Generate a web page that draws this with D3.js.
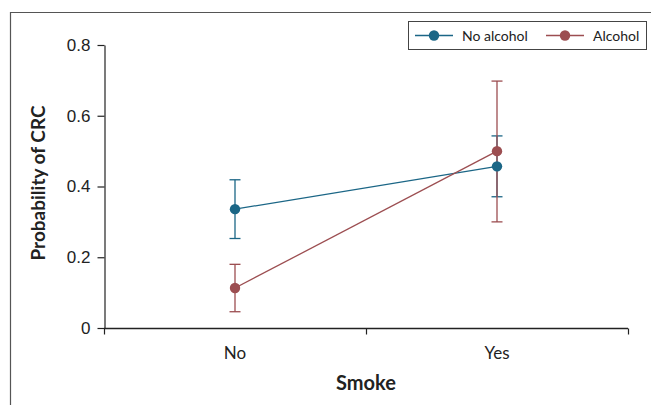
<!DOCTYPE html>
<html>
<head>
<meta charset="utf-8">
<script src="https://cdn.jsdelivr.net/npm/d3@7"></script>
<style>
  html, body { margin: 0; padding: 0; background: #fff; }
  svg { display: block; font-family: Lato, "Open Sans", sans-serif; }
</style>
</head>
<body>
<svg id="chart" width="651" height="405"></svg>
<script>
// Predicted probability of CRC by smoking status, split by alcohol use
const categories = ["No", "Yes"];
const seriesNames = ["No alcohol", "Alcohol"];
const noAlcoholMean = [0.336, 0.457];
const noAlcoholLow  = [0.253, 0.371];
const noAlcoholHigh = [0.419, 0.543];
const alcoholMean   = [0.113, 0.500];
const alcoholLow    = [0.046, 0.300];
const alcoholHigh   = [0.180, 0.698];
const yTicks = [0, 0.2, 0.4, 0.6, 0.8];
const yTickLabels = ["0", "0.2", "0.4", "0.6", "0.8"];
const colors = ["#1b6686", "#9c4e51"];

const series = [
  { name: seriesNames[0], mean: noAlcoholMean, low: noAlcoholLow, high: noAlcoholHigh, color: colors[0] },
  { name: seriesNames[1], mean: alcoholMean, low: alcoholLow, high: alcoholHigh, color: colors[1] }
];

const svg = d3.select("#chart");

// outer frame (left and top edges visible)
svg.append("path")
  .attr("d", "M10.5,405 V12.5 H651")
  .attr("fill", "none")
  .attr("stroke", "#555")
  .attr("stroke-width", 1.2);

const x = d3.scaleBand().domain(categories).range([104, 628]);
const y = d3.scaleLinear().domain([0, 0.8]).range([328, 45]);

// y axis
const yAxis = svg.append("g")
  .attr("transform", "translate(104.5,0)")
  .call(d3.axisLeft(y).tickValues(yTicks).tickFormat((d, i) => yTickLabels[i]).tickSize(7).tickSizeOuter(0).tickPadding(7));
yAxis.select(".domain").attr("stroke", "#222").attr("stroke-width", 1.2);
yAxis.selectAll(".tick line").attr("stroke", "#222").attr("stroke-width", 1.2);
yAxis.selectAll(".tick text").attr("font-size", 17).attr("fill", "#222");

// x axis with ticks at band boundaries
const xAxisG = svg.append("g").attr("transform", "translate(0,328.5)");
xAxisG.append("line")
  .attr("x1", x.range()[0]).attr("x2", x.range()[1])
  .attr("stroke", "#222").attr("stroke-width", 1.4);
const boundaries = [x.range()[0], x(categories[1]), x.range()[1]];
xAxisG.selectAll("line.tk").data(boundaries).join("line")
  .attr("class", "tk")
  .attr("x1", d => d + 0.5).attr("x2", d => d + 0.5)
  .attr("y1", 0).attr("y2", 6)
  .attr("stroke", "#222").attr("stroke-width", 1.2);
xAxisG.selectAll("text").data(categories).join("text")
  .attr("x", d => x(d) + x.bandwidth() / 2)
  .attr("y", 30.5)
  .attr("text-anchor", "middle")
  .attr("font-size", 17)
  .attr("fill", "#222")
  .text(d => d);

// axis titles
svg.append("text")
  .attr("transform", "translate(45,183) rotate(-90)")
  .attr("text-anchor", "middle")
  .attr("font-size", 19)
  .attr("font-weight", "bold")
  .attr("fill", "#222")
  .text("Probability of CRC");
svg.append("text")
  .attr("x", (x.range()[0] + x.range()[1]) / 2)
  .attr("y", 390)
  .attr("text-anchor", "middle")
  .attr("font-size", 20)
  .attr("font-weight", "bold")
  .attr("fill", "#222")
  .text("Smoke");

const cx = c => x(c) + x.bandwidth() / 2;
const capHalf = 5.5;

// lines, error bars and points for each series
series.forEach(s => {
  const g = svg.append("g");
  g.append("path")
    .datum(categories)
    .attr("fill", "none")
    .attr("stroke", s.color)
    .attr("stroke-width", 1.3)
    .attr("d", d3.line().x(c => cx(c)).y((c, i) => y(s.mean[i])));
  categories.forEach((c, i) => {
    const xc = cx(c);
    g.append("line").attr("x1", xc).attr("x2", xc)
      .attr("y1", y(s.low[i])).attr("y2", y(s.high[i]))
      .attr("stroke", s.color).attr("stroke-width", 1.3);
    [s.low[i], s.high[i]].forEach(v => {
      g.append("line").attr("x1", xc - capHalf).attr("x2", xc + capHalf)
        .attr("y1", y(v)).attr("y2", y(v))
        .attr("stroke", s.color).attr("stroke-width", 1.3);
    });
  });
});
series.forEach(s => {
  svg.append("g").selectAll("circle").data(categories).join("circle")
    .attr("cx", c => cx(c))
    .attr("cy", (c, i) => y(s.mean[i]))
    .attr("r", 5.2)
    .attr("fill", s.color);
});

// legend
const legend = svg.append("g");
legend.append("rect")
  .attr("x", 408.5).attr("y", 21.5).attr("width", 238).attr("height", 28)
  .attr("fill", "#fff").attr("stroke", "#444").attr("stroke-width", 1);
const legendX = [415, 546];
series.forEach((s, i) => {
  const lx = legendX[i];
  legend.append("line").attr("x1", lx).attr("x2", lx + 38)
    .attr("y1", 35.5).attr("y2", 35.5)
    .attr("stroke", s.color).attr("stroke-width", 1.5);
  legend.append("circle").attr("cx", lx + 19).attr("cy", 35.5).attr("r", 5.2).attr("fill", s.color);
  legend.append("text").attr("x", lx + 47).attr("y", 40.5)
    .attr("font-size", 14).attr("fill", "#222").text(s.name);
});
</script>
</body>
</html>
